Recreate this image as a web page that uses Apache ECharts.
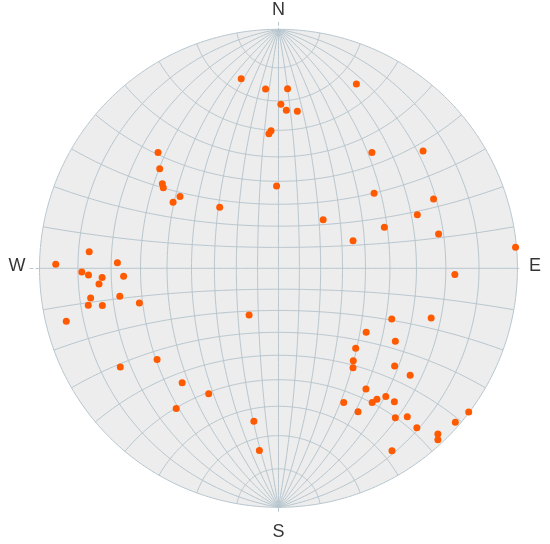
<!DOCTYPE html>
<html>
<head>
<meta charset="utf-8">
<script src="https://cdn.jsdelivr.net/npm/echarts@6/dist/echarts.min.js"></script>
<style>
  html, body { margin: 0; padding: 0; background: #fff; }
  #chart { width: 550px; height: 544px; }
</style>
</head>
<body>
<div id="chart"></div>
<script>
// poles on an equal-angle (Wulff) net, unit radius: east / north projected coords
const poleEast = [
  -0.156, -0.054, -0.031, -0.040, -0.504, -0.497, -0.486, -0.482, -0.412, -0.441,
  -0.246, -0.792, -0.932, -0.674,
  0.038, 0.326, 0.010, 0.033, 0.079, 0.391, 0.605, -0.008, 0.400, 0.649,
  0.581, 0.187, 0.443, 0.670, 0.312, 0.992,
  -0.823, -0.795, -0.738, -0.648, -0.751, -0.786, -0.796, -0.737, -0.664, -0.582, -0.888,
  -0.123, -0.508, -0.662, -0.403, -0.292, -0.428, -0.103, -0.080,
  0.738,
  0.474, 0.639, 0.367, 0.489, 0.323, 0.313, 0.312, 0.486, 0.551, 0.366,
  0.273, 0.392, 0.412, 0.449, 0.485, 0.333, 0.489, 0.539, 0.579, 0.740,
  0.796, 0.667, 0.667, 0.475
];
const poleNorth = [
  0.793, 0.750, 0.576, 0.563, 0.485, 0.417, 0.354, 0.337, 0.300, 0.276,
  0.255, 0.069, 0.017, 0.023,
  0.751, 0.771, 0.686, 0.661, 0.657, 0.485, 0.491, 0.344, 0.314, 0.290,
  0.224, 0.203, 0.172, 0.144, 0.115, 0.088,
  -0.015, -0.028, -0.038, -0.033, -0.066, -0.124, -0.155, -0.156, -0.117, -0.145, -0.222,
  -0.195, -0.382, -0.413, -0.479, -0.525, -0.587, -0.640, -0.762,
  -0.026,
  -0.212, -0.208, -0.268, -0.305, -0.335, -0.387, -0.416, -0.409, -0.448, -0.505,
  -0.561, -0.562, -0.548, -0.536, -0.558, -0.600, -0.625, -0.621, -0.667, -0.644,
  -0.601, -0.693, -0.717, -0.763
];
const compassNames = ["N", "S", "W", "E"];
const netStep = 10; // degrees between net lines

const rad = Math.PI / 180;
// stereographic projection of a lower-hemisphere unit vector (east, north, down)
const project = (e, n, d) => [e / (1 + d), n / (1 + d)];

// great circles striking N-S plus small circles about the N-S axis
const netCurves = [];
for (let dip = netStep; dip <= 90; dip += netStep) {
  [1, -1].forEach((side) => {
    if (dip === 90 && side === -1) return;
    const pts = [];
    for (let t = 0; t <= 180; t += 1) {
      const s = Math.sin(t * rad);
      pts.push(project(side * s * Math.cos(dip * rad), Math.cos(t * rad), s * Math.sin(dip * rad)));
    }
    netCurves.push(pts);
  });
}
for (let a = netStep; a < 180; a += netStep) {
  const pts = [];
  const sa = Math.sin(a * rad);
  for (let p = 0; p <= 180; p += 1) {
    pts.push(project(sa * Math.cos(p * rad), Math.cos(a * rad), sa * Math.sin(p * rad)));
  }
  netCurves.push(pts);
}
const rimPoints = [];
for (let t = 0; t < 360; t += 1) rimPoints.push([Math.cos(t * rad), Math.sin(t * rad)]);

const lineColor = "#b8c6ce";
const chart = echarts.init(document.getElementById("chart"));

const option = {
  animation: false,
  grid: { left: 29.94, top: 20.46, width: 491.1, height: 490.9 },
  xAxis: {
    type: "value",
    min: -1.04,
    max: 1.015,
    axisLine: { show: true, onZero: true, lineStyle: { color: lineColor, type: [3, 3] } },
    axisTick: { show: false },
    axisLabel: { show: false },
    splitLine: { show: false }
  },
  yAxis: {
    type: "value",
    min: -1.017,
    max: 1.037,
    axisLine: { show: true, onZero: true, lineStyle: { color: lineColor, type: [3, 3] } },
    axisTick: { show: false },
    axisLabel: { show: false },
    splitLine: { show: false }
  },
  series: [
    {
      // primitive circle
      type: "custom",
      z: 1,
      silent: true,
      data: [[0, 0]],
      renderItem: (params, api) => ({
        type: "polygon",
        shape: { points: rimPoints.map((p) => api.coord(p)) },
        style: { fill: "#ededed", stroke: lineColor, lineWidth: 1 }
      })
    },
    {
      // net lines
      type: "custom",
      z: 2,
      silent: true,
      data: netCurves.map((c, i) => [0, 0, i]),
      renderItem: (params, api) => ({
        type: "polyline",
        shape: { points: netCurves[params.dataIndex].map((p) => api.coord(p)) },
        style: { fill: null, stroke: lineColor, lineWidth: 1 }
      })
    },
    {
      type: "scatter",
      z: 5,
      symbolSize: 7,
      itemStyle: { color: "#ff5a00", opacity: 1 },
      data: poleEast.map((e, i) => [e, poleNorth[i]])
    },
    {
      // compass letters
      type: "scatter",
      z: 6,
      clip: false,
      silent: true,
      symbolSize: 0,
      data: [
        { name: compassNames[0], value: [0, 1.079] },
        { name: compassNames[1], value: [0, -1.103] },
        { name: compassNames[2], value: [-1.094, 0.01] },
        { name: compassNames[3], value: [1.073, 0.01] }
      ],
      label: {
        show: true,
        position: "inside",
        formatter: "{b}",
        color: "#000",
        fontSize: 18,
        fontFamily: "Liberation Sans, Arial, sans-serif"
      }
    }
  ]
};
chart.setOption(option);
</script>
</body>
</html>
